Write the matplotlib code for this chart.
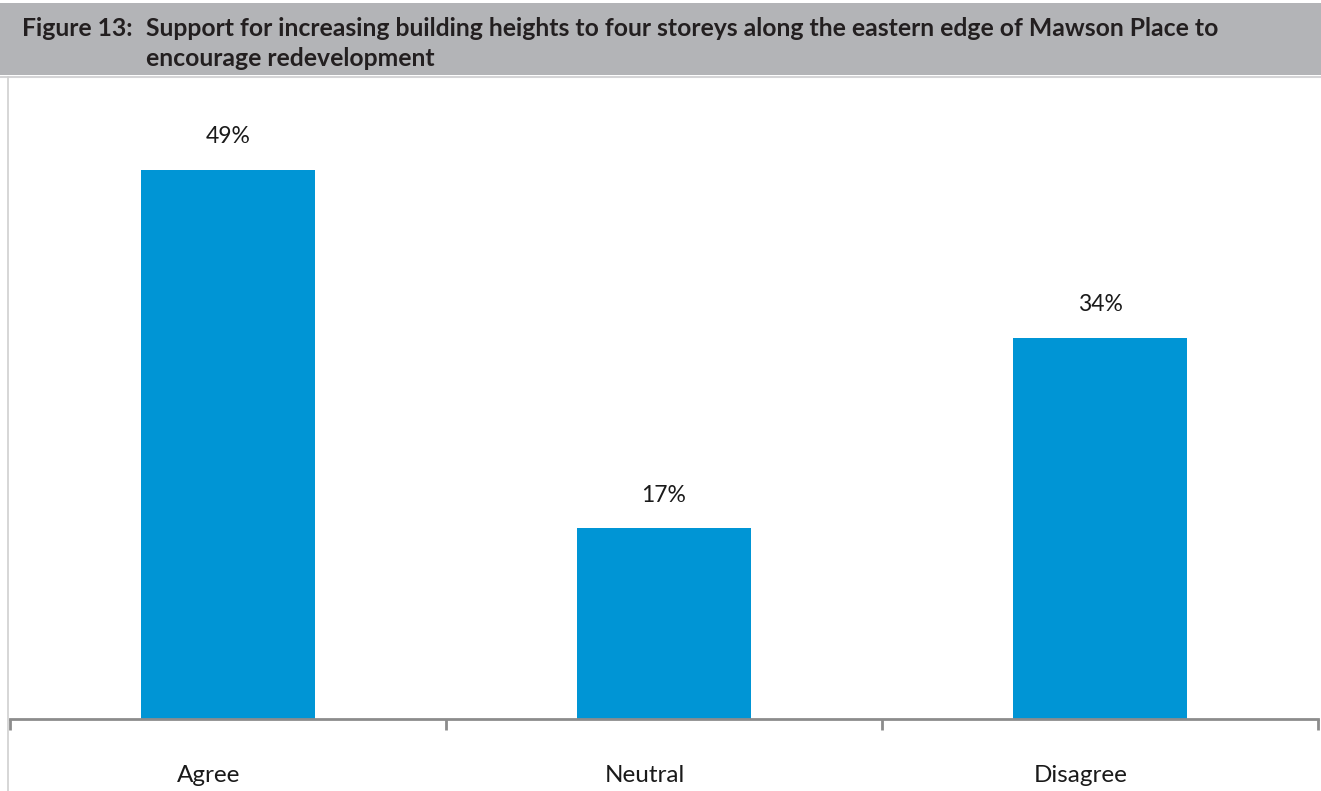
import matplotlib
matplotlib.use("Agg")
import matplotlib.pyplot as plt
from matplotlib.patches import Rectangle
from matplotlib.lines import Line2D
from matplotlib.transforms import ScaledTranslation

categories = ["Agree", "Neutral", "Disagree"]
values = [49, 17, 34]
value_labels = ["49%", "17%", "34%"]
title_prefix = "Figure 13:"
title_lines = ["Support for increasing building heights to four storeys along the eastern edge of Mawson Place to",
               "encourage redevelopment"]

W, H = 1321, 791
plt.rcParams["font.family"] = ["Lato", "DejaVu Sans"]
fig = plt.figure(figsize=(W / 100, H / 100), dpi=100)

def fx(px):
    return px / W

def fy(py):
    return 1 - py / H

# Title band
fig.patches.append(Rectangle((0, fy(75)), 1, fy(3) - fy(75), transform=fig.transFigure,
                             facecolor="#b3b4b7", edgecolor="none", zorder=0))
fig.lines.append(Line2D([0, 1], [fy(76.5), fy(76.5)], transform=fig.transFigure,
                        color="#d4d4d6", lw=1.5))
fig.lines.append(Line2D([fx(7.5), fx(7.5)], [fy(77), 0], transform=fig.transFigure,
                        color="#d0d0d0", lw=1.2))
title_kw = dict(fontsize=17.8, fontweight="bold", color="#231f20", ha="left", va="center")
fig.text(fx(22), fy(29), title_prefix, **title_kw)
fig.text(fx(146), fy(29), title_lines[0], **title_kw)
fig.text(fx(146), fy(59), title_lines[1], **title_kw)

# Plot area
ax = fig.add_axes([fx(10), fy(719), fx(1318) - fx(10), fy(80) - fy(719)])
x = list(range(len(categories)))
ax.bar(x, values, width=0.397, color="#0095d5", zorder=2)
ax.set_xlim(-0.5, len(categories) - 0.5)
ax.set_ylim(0, 57)

for xi, v, lab in zip(x, values, value_labels):
    ax.annotate(lab, (xi, v), xytext=(0, 24), textcoords="offset points",
                ha="center", va="center", fontsize=16.5, color="#1a1a1a")

for s in ["top", "right", "left"]:
    ax.spines[s].set_visible(False)
ax.spines["bottom"].set_color("#8c8c8c")
ax.spines["bottom"].set_linewidth(2)
ax.spines["bottom"].set_zorder(3)
ax.set_yticks([])
ax.set_xticks(x)
ax.set_xticklabels(categories, fontsize=17.5, color="#1a1a1a")
ax.tick_params(axis="x", which="major", length=0, pad=33)
# category names sit slightly left of the bar centres
shift = ScaledTranslation(-0.19, 0, fig.dpi_scale_trans)
for lbl in ax.get_xticklabels():
    lbl.set_transform(lbl.get_transform() + shift)
ax.set_xticks([i - 0.5 for i in range(len(categories) + 1)], minor=True)
ax.tick_params(axis="x", which="minor", direction="out", length=8, width=2, color="#8c8c8c")
ax.patch.set_alpha(0)

fig.savefig("out.png", dpi=100)
